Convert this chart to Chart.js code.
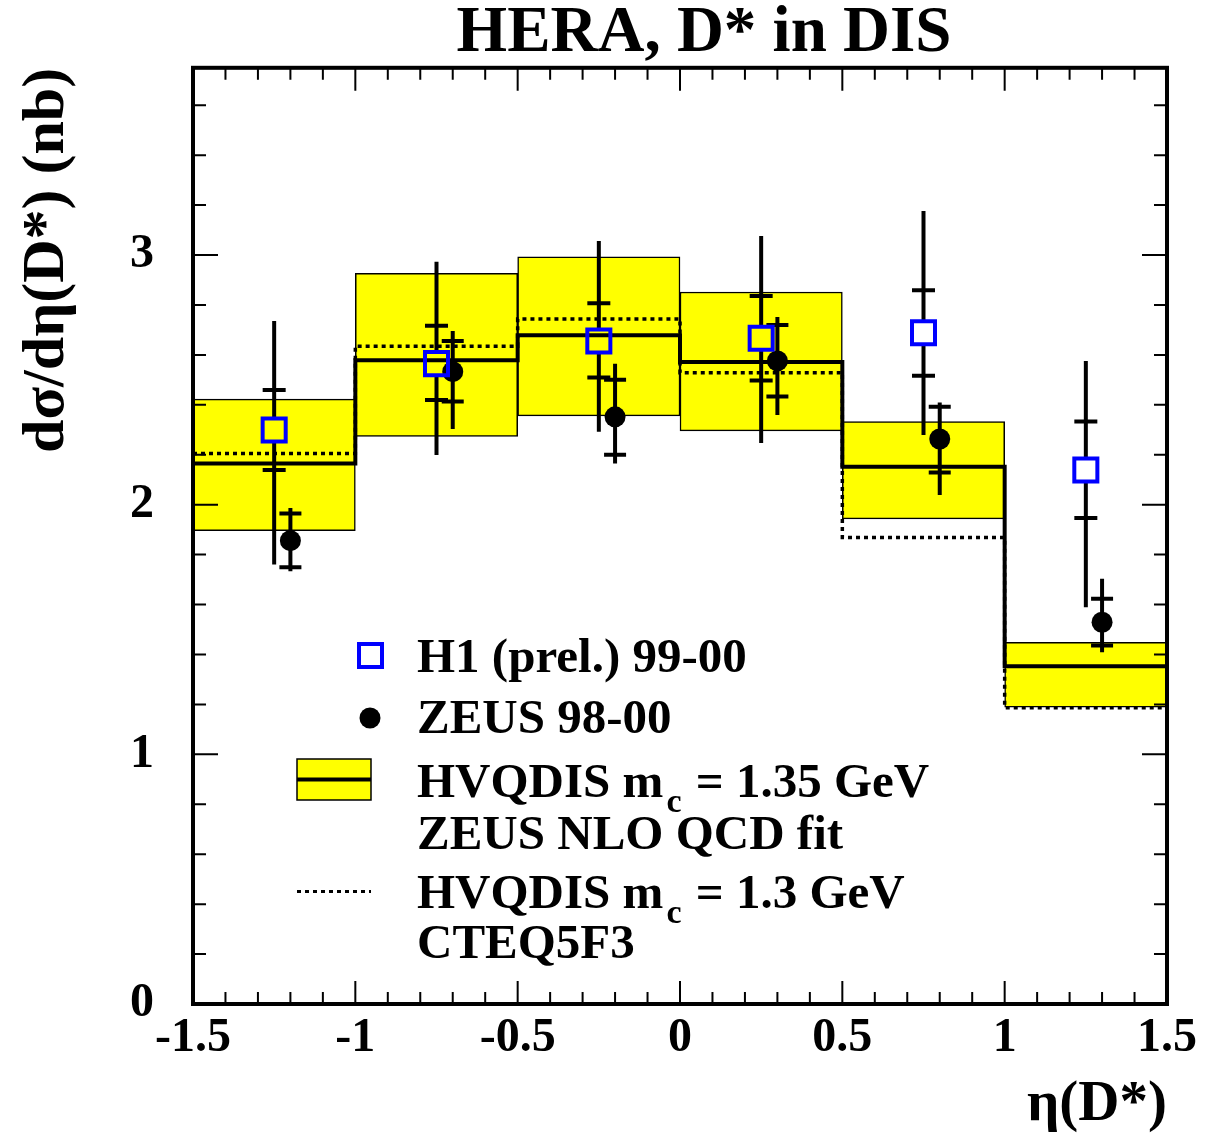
<!DOCTYPE html>
<html>
<head>
<meta charset="utf-8">
<title>HERA, D* in DIS</title>
<script src="https://cdn.jsdelivr.net/npm/chart.js@4.4.1/dist/chart.umd.min.js"></script>
<style>
    html, body { margin: 0; padding: 0; background: #ffffff; }
    #wrap { width: 1205px; height: 1139px; }
</style>
</head>
<body>
<div id="wrap"><canvas id="chart_dstar"></canvas></div>
<script>
// Bordes de los bins en eta(D*)
var binEdges = [-1.5, -1.0, -0.5, 0.0, 0.5, 1.0, 1.5];

// HVQDIS mc = 1.35 GeV (ZEUS NLO QCD fit): central y banda
var hvqdisCentral = [2.165, 2.579, 2.679, 2.572, 2.152, 1.353];
var hvqdisHigh    = [2.423, 2.927, 2.993, 2.852, 2.333, 1.449];
var hvqdisLow     = [1.896, 2.273, 2.356, 2.296, 1.943, 1.189];

// HVQDIS mc = 1.3 GeV (CTEQ5F3)
var cteqCentral = [2.205, 2.635, 2.744, 2.529, 1.869, 1.187];

// H1 (prel.) 99-00
var h1Eta     = [-1.25, -0.75, -0.25, 0.25, 0.75, 1.25];
var h1Value   = [2.299, 2.565, 2.656, 2.667, 2.689, 2.139];
var h1StatHi  = [2.459, 2.717, 2.807, 2.836, 2.859, 2.333];
var h1StatLo  = [2.139, 2.419, 2.509, 2.497, 2.516, 1.947];
var h1TotHi   = [2.736, 2.973, 3.056, 3.076, 3.176, 2.576];
var h1TotLo   = [1.760, 2.199, 2.292, 2.247, 2.279, 1.589];

// ZEUS 98-00
var zeusEta    = [-1.2, -0.7, -0.2, 0.3, 0.8, 1.3];
var zeusValue  = [1.856, 2.533, 2.352, 2.576, 2.263, 1.529];
var zeusStatHi = [1.965, 2.656, 2.500, 2.720, 2.392, 1.623];
var zeusStatLo = [1.749, 2.413, 2.200, 2.433, 2.129, 1.436];
var zeusTotHi  = [1.987, 2.696, 2.565, 2.752, 2.409, 1.703];
var zeusTotLo  = [1.733, 2.303, 2.165, 2.359, 2.039, 1.409];

// Ticks de los ejes
var xTickLabels = [-1.5, -1, -0.5, 0, 0.5, 1, 1.5];
var yTickLabels = [0, 1, 2, 3];

var FONT = '"Liberation Serif", "DejaVu Serif", "Times New Roman", serif';
var H1_GAP = 0.048;   // hueco de la barra de error dentro del cuadrado


// Funciones auxiliares
function stepPoints(edges, vals) {
    var pts = [];
    for (var i = 0; i < vals.length; i++) {
        pts.push({ x: edges[i], y: vals[i] });
        pts.push({ x: edges[i + 1], y: vals[i] });
    }
    return pts;
}

function errorSegments(xs, vals, lo, hi, gap) {
    var pts = [];
    for (var i = 0; i < xs.length; i++) {
        if (gap > 0) {
            pts.push({ x: xs[i], y: lo[i] }, { x: xs[i], y: vals[i] - gap }, { x: xs[i], y: null });
            pts.push({ x: xs[i], y: vals[i] + gap }, { x: xs[i], y: hi[i] }, { x: xs[i], y: null });
        } else {
            pts.push({ x: xs[i], y: lo[i] }, { x: xs[i], y: hi[i] }, { x: xs[i], y: null });
        }
    }
    return pts;
}

function capPoints(xs, hi, lo) {
    var pts = [];
    for (var i = 0; i < xs.length; i++) {
        pts.push({ x: xs[i], y: hi[i] }, { x: xs[i], y: lo[i] });
    }
    return pts;
}

function markerPoints(xs, vals) {
    return xs.map(function (x, i) { return { x: x, y: vals[i] }; });
}

var bandData = hvqdisCentral.map(function (v, i) {
    return { x: (binEdges[i] + binEdges[i + 1]) / 2, y: [hvqdisLow[i], hvqdisHigh[i]] };
});


// Ejes con ticks hacia adentro y marco
var framePlugin = {
    id: 'frame',
    afterDatasetsDraw: function (chart) {
        var ctx = chart.ctx, a = chart.chartArea;
        var sx = chart.scales.x, sy = chart.scales.y;
        ctx.save();
        ctx.strokeStyle = '#000';
        ctx.lineWidth = 2;
        ctx.beginPath();
        for (var i = 0; i <= 30; i++) {
            var px = sx.getPixelForValue(-1.5 + i * 0.1);
            var lx = (i % 5 === 0) ? 23 : 12;
            ctx.moveTo(px, a.bottom); ctx.lineTo(px, a.bottom - lx);
            ctx.moveTo(px, a.top); ctx.lineTo(px, a.top + lx);
        }
        for (var j = 0; j <= 18; j++) {
            var py = sy.getPixelForValue(j * 0.2);
            var ly = (j % 5 === 0) ? 25 : 13;
            ctx.moveTo(a.left, py); ctx.lineTo(a.left + ly, py);
            ctx.moveTo(a.right, py); ctx.lineTo(a.right - ly, py);
        }
        ctx.stroke();
        ctx.lineWidth = 4;
        ctx.strokeRect(a.left, a.top, a.right - a.left, a.bottom - a.top);
        ctx.restore();
    }
};

// Titulo y leyenda
var legendPlugin = {
    id: 'leyenda',
    afterDraw: function (chart) {
        var ctx = chart.ctx;
        ctx.save();
        ctx.fillStyle = '#000';
        ctx.textBaseline = 'alphabetic';

        ctx.font = 'bold 65px ' + FONT;
        ctx.textAlign = 'center';
        ctx.fillText('HERA, D* in DIS', 704, 51);

        // simbolos
        ctx.strokeStyle = '#0000ff';
        ctx.lineWidth = 4;
        ctx.strokeRect(359, 644, 23, 23);

        ctx.beginPath();
        ctx.arc(370, 718, 10.5, 0, Math.PI * 2);
        ctx.fillStyle = '#000';
        ctx.fill();

        ctx.fillStyle = '#ffff00';
        ctx.fillRect(297, 759, 74, 41);
        ctx.strokeStyle = '#000';
        ctx.lineWidth = 1.5;
        ctx.strokeRect(297, 759, 74, 41);
        ctx.lineWidth = 4;
        ctx.beginPath();
        ctx.moveTo(297, 779.5); ctx.lineTo(371, 779.5);
        ctx.stroke();

        ctx.lineWidth = 3;
        ctx.setLineDash([4, 4]);
        ctx.beginPath();
        ctx.moveTo(297, 891.5); ctx.lineTo(371, 891.5);
        ctx.stroke();
        ctx.setLineDash([]);

        // textos
        ctx.fillStyle = '#000';
        ctx.textAlign = 'left';
        var x0 = 417;
        var big = 'bold 49px ' + FONT, small = 'bold 34px ' + FONT;
        ctx.font = big;
        ctx.fillText('H1 (prel.) 99-00', x0, 672);
        ctx.fillText('ZEUS 98-00', x0, 733);

        function withSub(pre, sub, post, yb) {
            ctx.font = big;
            ctx.fillText(pre, x0, yb);
            var w = ctx.measureText(pre).width;
            ctx.font = small;
            ctx.fillText(sub, x0 + w + 3, yb + 15);
            var ws = ctx.measureText(sub).width;
            ctx.font = big;
            ctx.fillText(post, x0 + w + 3 + ws + 2, yb);
        }
        withSub('HVQDIS m', 'c', ' = 1.35 GeV', 797);
        ctx.font = big;
        ctx.fillText('ZEUS NLO QCD fit', x0, 849);
        withSub('HVQDIS m', 'c', ' = 1.3 GeV', 908);
        ctx.font = big;
        ctx.fillText('CTEQ5F3', x0, 958);
        ctx.restore();
    }
};


var config_dstar = {
    type: 'line',
    data: {
        datasets: [{
            type: 'bar',
            label: 'HVQDIS band',
            data: bandData,
            backgroundColor: '#ffff00',
            borderColor: '#000000',
            borderWidth: 1.5,
            borderSkipped: false,
            barPercentage: 1.0,
            categoryPercentage: 1.0,
            order: 10
        }, {
            label: 'HVQDIS mc = 1.3 GeV CTEQ5F3',
            data: stepPoints(binEdges, cteqCentral),
            borderColor: '#000000',
            borderWidth: 3.5,
            borderDash: [4, 4],
            pointRadius: 0,
            fill: false,
            order: 9
        }, {
            label: 'HVQDIS mc = 1.35 GeV',
            data: stepPoints(binEdges, hvqdisCentral),
            borderColor: '#000000',
            borderWidth: 4,
            pointRadius: 0,
            fill: false,
            order: 8
        }, {
            label: 'ZEUS tot',
            data: errorSegments(zeusEta, zeusValue, zeusTotLo, zeusTotHi, 0),
            borderColor: '#000000',
            borderWidth: 4,
            pointRadius: 0,
            spanGaps: false,
            order: 7
        }, {
            label: 'ZEUS stat',
            data: capPoints(zeusEta, zeusStatHi, zeusStatLo),
            showLine: false,
            pointStyle: 'line',
            pointRadius: 11,
            pointBorderWidth: 4,
            pointBorderColor: '#000000',
            order: 6
        }, {
            label: 'ZEUS 98-00',
            data: markerPoints(zeusEta, zeusValue),
            showLine: false,
            pointStyle: 'circle',
            pointRadius: 10.5,
            pointBackgroundColor: '#000000',
            pointBorderColor: '#000000',
            pointBorderWidth: 0,
            order: 5
        }, {
            label: 'H1 tot',
            data: errorSegments(h1Eta, h1Value, h1TotLo, h1TotHi, H1_GAP),
            borderColor: '#000000',
            borderWidth: 4,
            pointRadius: 0,
            spanGaps: false,
            order: 4
        }, {
            label: 'H1 stat',
            data: capPoints(h1Eta, h1StatHi, h1StatLo),
            showLine: false,
            pointStyle: 'line',
            pointRadius: 11.5,
            pointBorderWidth: 4,
            pointBorderColor: '#000000',
            order: 3
        }, {
            label: 'H1 (prel.) 99-00',
            data: markerPoints(h1Eta, h1Value),
            showLine: false,
            pointStyle: 'rect',
            pointRadius: 16.3,
            pointBackgroundColor: 'rgba(0,0,0,0)',
            pointBorderColor: '#0000ff',
            pointBorderWidth: 4,
            order: 2
        }]
    },
    options: {
        responsive: true,
        maintainAspectRatio: false,
        animation: false,
        layout: { padding: { left: 0, right: 38, top: 67, bottom: 0 } },
        plugins: {
            legend: { display: false },
            tooltip: { enabled: false }
        },
        scales: {
            x: {
                type: 'linear',
                min: -1.5,
                max: 1.5,
                offset: false,
                grid: { display: false, drawTicks: false },
                border: { display: false },
                afterFit: function (s) { s.height = 135; },
                afterBuildTicks: function (s) {
                    s.ticks = xTickLabels.map(function (v) { return { value: v }; });
                },
                ticks: {
                    padding: 6,
                    color: '#000',
                    font: { family: FONT, size: 48, weight: 'bold' },
                    callback: function (v) { return String(v); }
                },
                title: {
                    display: true,
                    text: 'η(D*)',
                    align: 'end',
                    color: '#000',
                    font: { family: FONT, size: 57, weight: 'bold' },
                    padding: { top: 0, bottom: 0 }
                }
            },
            y: {
                type: 'linear',
                min: 0,
                max: 3.75,
                grid: { display: false, drawTicks: false },
                border: { display: false },
                afterFit: function (s) { s.width = 193; },
                afterBuildTicks: function (s) {
                    s.ticks = yTickLabels.map(function (v) { return { value: v }; });
                },
                ticks: {
                    padding: 39,
                    color: '#000',
                    font: { family: FONT, size: 48, weight: 'bold' },
                    callback: function (v) { return String(v); }
                },
                title: {
                    display: true,
                    text: 'dσ/dη(D*) (nb)',
                    align: 'end',
                    color: '#000',
                    font: { family: FONT, size: 60, weight: 'bold' },
                    padding: { top: 11, bottom: 0 }
                }
            }
        }
    },
    plugins: [framePlugin, legendPlugin]
};

var canvas_dstar = document.getElementById('chart_dstar');
var chart_dstar = new Chart(canvas_dstar, config_dstar);
</script>
</body>
</html>
